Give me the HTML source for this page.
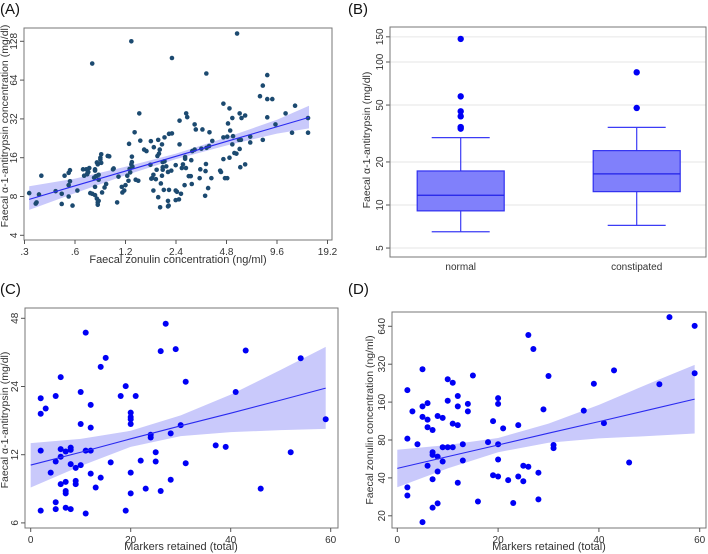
<!DOCTYPE html>
<html><head><meta charset="utf-8"><style>
html,body{margin:0;padding:0;background:#fff;}
svg{display:block;font-family:"Liberation Sans",Arial,sans-serif;}
</style></head><body>
<svg id="chart" width="708" height="554" viewBox="0 0 708 554" xmlns="http://www.w3.org/2000/svg"></svg>
<script>
// ---------- Panel A data ----------
const aX=[0.76,1.30,2.27,3.64,5.55,7.6,7.9,8.4,8.4,9.0,8.4,9.4,10.8,12.3,11.8,14.7,14.7,7.9,6.65,6.65,6.2,5.75,5.9,5.2,5.0,4.6,4.9,5.05,5.25,4.85,4.6,5.2,5.7,5.85,5.5,5.75,5.35,5.0,5.8,6.2,4.6,4.4,4.45,4.7,4.85,
3.45,3.1,3.15,2.76,2.8,2.52,2.18,2.05,1.98,1.88,1.77,1.7,1.6,1.55,1.47,1.45,1.36,1.26,1.31,1.31,1.3,1.32,1.27,1.28,1.38,1.43,1.25,1.2,1.23,1.18,1.15,1.07,1.14,1.09,1.01,1.02,0.94,0.96,0.92,0.90,0.87,0.78,0.79,0.79,0.73,0.74,0.76,0.70,0.72,0.71,0.83,0.80,0.81,0.82,0.83,0.86,0.85,0.85,0.86,0.79,0.79,0.81,0.82,0.82,0.83,0.71,0.67,0.68,0.62,0.58,0.55,0.55,0.55,0.56,0.56,0.52,0.50,0.50,0.46,0.378,0.366,0.354,0.35,0.32,
1.86,1.92,1.90,1.73,1.69,2.0,2.05,2.0,2.15,2.0,2.1,1.98,2.25,2.39,2.27,2.52,2.6,2.64,2.75,2.72,2.72,2.96,2.94,2.98,3.1,3.0,3.4,3.35,3.6,3.65,3.8,3.95,3.78,3.9,3.62,3.32,3.58,3.73,2.57,2.39,2.43,2.5,2.39,2.7,2.86,2.18,2.03,1.95,1.88,2.15,2.17,2.15,1.93,1.76,1.82,1.76,1.84,1.71];
const aY=[86,128,95,72,147,48,58,70,45.6,45.6,32.9,29,35.3,40.5,25,32.5,25,22,23.3,21,34,35.3,32.5,32.5,38.6,42,29.5,26,23.5,23.3,23,20.3,22,22,17.2,18.7,17.4,16,13.5,14.2,15.6,12.7,12.4,11.1,11.1,
26.5,29,26.5,35.3,33,31,24.5,23,20.3,22,19.3,21.5,18,18.5,21.7,35.3,25.2,20.5,16.3,14.8,14.2,13.6,13.1,12.3,10.8,10.6,10.6,9.8,11.6,8.9,8.6,7.2,9.5,11.4,13.0,13.2,16.5,16.4,10.0,9.4,8.6,11.2,13.0,12.7,13.3,8.5,8.4,13.0,12.4,11.9,10.8,11.5,14.7,14.2,11.8,17.0,16,15.5,14.6,9.5,8.2,7.7,7.2,6.9,7.4,12.0,13.0,11.6,8.9,6.8,9.8,12.2,8.0,10.5,12.8,11.6,8.4,7.0,8.8,11.6,8.3,7.2,7.05,8.5,
16.5,18.5,17.2,11.1,14.1,14.8,15.0,13.5,12.4,12.9,13.7,11.6,12.7,14.0,24.7,20.3,13.3,14.2,13.3,16.2,15.7,15.3,11.5,10.0,18.5,18.0,18.8,13.0,12.6,19.1,25.2,21.6,19.7,11.1,14.3,11.1,8.1,9.3,8.4,8.9,8.7,7.6,7.5,9.8,11.5,9.0,9.0,10.1,7.9,7.4,6.8,6.7,6.6,8.9,10.9,11.8,12.9,11.0];
const aTicksX=[0.3,0.6,1.2,2.4,4.8,9.6,19.2];
const aTickLabX=[".3",".6","1.2","2.4","4.8","9.6","19.2"];
const aTicksY=[4,8,16,32,64,128];
const aBandX=[0.32,0.6,1.2,2.4,4.8,9.6,14.9];
const aFit=[7.6,9.68,12.6,16.4,21.4,27.8,32.9];
const aUpper=[9.6,11.0,13.6,17.2,23.0,31.5,40.5];
const aLower=[6.3,8.5,11.7,15.6,19.9,24.6,27.0];

// ---------- Panel B data ----------
const bGroups=["normal","constipated"];
const bQ1=[9.1,12.4], bMed=[11.7,16.5], bQ3=[17.3,24], bWlo=[6.5,7.2], bWhi=[29.6,34.9];
const bOutG=[0,0,0,0,0,0,1,1];
const bOutV=[145,57.5,45.2,41.7,35.1,34.2,84.7,47.7];
const bTicks=[5,10,20,50,100,150];

// ---------- Panel C data ----------
const cX=[11,27,26,29,43,15,14,54,59,6,19,31,2,5,10,18,21,41,3,2,12,20,20,20,20,10,12,30,24,24,28,37,39,52,25,25,31,22,16,2,6,6,5,7,8,8,11,12,8,10,9,4,12,14,7,6,9,9,7,7,13,20,20,23,26,28,46,5,5,2,7,8,19,11];
const cY=[41.5,45.4,34.4,35.1,34.6,32.1,29.3,32,17.2,26.4,24.1,25.2,21.3,21.8,22.7,21.8,21.8,22.7,19.2,18.2,19.9,18.4,17.6,17.2,16.4,16.4,15.8,16.2,14.7,14.3,14.9,13.2,13.0,12.3,12.3,11.2,11.0,11.3,11.1,12.5,12.7,11.75,11.2,12.4,12.9,12.6,12.5,12.5,10.9,10.8,10.5,10.0,9.9,9.5,9.1,8.9,9.2,8.9,8.3,8.1,8.6,10.0,8.1,8.5,8.3,9.3,8.5,7.4,6.9,6.8,7.0,6.9,6.8,6.6];
const cTicksX=[0,20,40,60];
const cTicksY=[6,12,24,48];
const cBandX=[0,10,20,30,40,50,59];
const cFit=[10.8,12.3,14.1,16.1,18.3,20.9,23.6];
const cUpper=[13.5,14.1,15.3,17.9,22.1,28.4,35.9];
const cLower=[8.6,10.7,13.0,14.5,15.1,15.4,15.6];

// ---------- Panel D data ----------
const dX=[54,59,26,27,59,5,43,30,15,10,11,39,52,2,12,20,10,20,6,14,5,12,3,14,29,37,8,9,5,6,19,11,12,24,41,6,7,21,2,4,13,18,20,31,31,9,10,11,7,7,8,13,9,20,6,25,26,46,8,28,19,20,24,22,25,12,7,2,2,16,28,23,8,7,5];
const dY=[757,645,546,423,271,292,286,258,260,243,228,224,222,199,179,172,164,155,157,155,148,148,135,135,140,137,124,120,122,116,113,108,105,105,109,101,96,99,82,74,74,77,74,73,69,70,70,70,64,61,59,55,54,56,50,50,49,53,45,44,42,41,41,38.4,37.6,36.6,39,33.6,29,26,27,25.3,25.1,23.2,17.8];
const dTicksX=[0,20,40,60];
const dTicksY=[20,40,80,160,320,640];
const dBandX=[0,10,20,30,40,50,59];
const dFit=[47.6,59,73,90.6,112,139,169];
const dUpper=[67,73,83,108,152,225,316];
const dLower=[33.7,47.6,64,76,82.5,86,90];

const NS="http://www.w3.org/2000/svg";
const svg=document.getElementById('chart');
function el(tag,attrs,parent,txt){const e=document.createElementNS(NS,tag);for(const k in attrs)e.setAttribute(k,attrs[k]);if(txt!==undefined)e.textContent=txt;(parent||svg).appendChild(e);return e;}
const L2=Math.log2, L10=Math.log10;

const ax=x=>75+50.5*L2(x/0.6), ay=y=>157.7-38.8*L2(y/16);
const by=y=>205-143*L10(y/10);
const cx=x=>30.7+5*x, cy=y=>454.7-68.2*L2(y/12);
const dx=x=>397.3+5.04*x, dy=y=>440-37.9*L2(y/80);

function panelLabel(t,x,y,name){const e=el('text',{x:x,y:y,'font-size':15,fill:'#111'},svg,t);

}

function scatterPanel(o){
  const g=el('g',{});
  
  
  let pts=o.bandX.map((x,i)=>o.sx(x)+','+o.sy(o.upper[i]));
  pts=pts.concat(o.bandX.map((x,i)=>o.sx(x)+','+o.sy(o.lower[i])).reverse());
  const band=el('polygon',{points:pts.join(' '),fill:'#c9c9fb',stroke:'none'},g);
  
  
  const pg=el('g',{},g);
  
  
  o.xs.forEach((x,i)=>{const c=el('circle',{cx:o.sx(x),cy:o.sy(o.ys[i]),r:o.r,fill:o.color},pg);
    
    });
  const lp=o.bandX.map((x,i)=>o.sx(x)+','+o.sy(o.fit[i])).join(' ');
  const ln=el('polyline',{points:lp,fill:'none',stroke:'#2a2af0','stroke-width':1.1},g);
  
  
  const f=o.frame;
  const fr=el('rect',{x:f[0],y:f[1],width:f[2]-f[0],height:f[3]-f[1],fill:'none',stroke:'#777','stroke-width':1},g);
  
  
  o.tx.forEach((t,i)=>{const X=o.sx(t);
    el('line',{x1:X,x2:X,y1:f[3],y2:f[3]+4,stroke:'#555'},g);
    const lt=el('text',{x:X,y:f[3]+15,'font-size':10,'text-anchor':'middle',fill:'#333'},g,o.txl?o.txl[i]:String(t));
    
    });
  o.ty.forEach(t=>{const Y=o.sy(t);
    el('line',{x1:f[0]-4,x2:f[0],y1:Y,y2:Y,stroke:'#555'},g);
    const lt=el('text',{x:0,y:0,'font-size':10,'text-anchor':'middle',fill:'#333',transform:'translate('+(f[0]-7)+','+Y+') rotate(-90)'},g,String(t));
    
    });
  const xt=el('text',{x:o.xtPos[0],y:o.xtPos[1],'font-size':11,'text-anchor':'middle',fill:'#333'},g,o.xTitle);
  
  
  const yt=el('text',{x:0,y:0,'font-size':10.5,'text-anchor':'middle',fill:'#333',transform:'translate('+o.ytPos[0]+','+o.ytPos[1]+') rotate(-90)'},g,o.yTitle);
  
  
}

panelLabel('(A)',0,14,'panel-label-a');
scatterPanel({name:'panel-a',xs:aX,ys:aY,sx:ax,sy:ay,r:2.3,color:'#1c4a70',bandX:aBandX,fit:aFit,upper:aUpper,lower:aLower,
  frame:[24,28,332,240],tx:aTicksX,txl:aTickLabX,ty:aTicksY,xTitle:'Faecal zonulin concentration (ng/ml)',xtPos:[178,263],
  yTitle:'Faecal α-1-antitrypsin concentration (mg/dl)',ytPos:[8,126]});

panelLabel('(C)',0,294,'panel-label-c');
scatterPanel({name:'panel-c',xs:cX,ys:cY,sx:cx,sy:cy,r:3,color:'#0000f5',bandX:cBandX,fit:cFit,upper:cUpper,lower:cLower,
  frame:[25,308,338,528],tx:cTicksX,ty:cTicksY,xTitle:'Markers retained (total)',xtPos:[181,550],
  yTitle:'Faecal α-1-antitrypsin (mg/dl)',ytPos:[8,420]});

panelLabel('(D)',348,294,'panel-label-d');
scatterPanel({name:'panel-d',xs:dX,ys:dY,sx:dx,sy:dy,r:3,color:'#0000f5',bandX:dBandX,fit:dFit,upper:dUpper,lower:dLower,
  frame:[392,312,706,528],tx:dTicksX,ty:dTicksY,xTitle:'Markers retained (total)',xtPos:[549,550],
  yTitle:'Faecal zonulin concentration (ng/ml)',ytPos:[373,420]});

panelLabel('(B)',348,14,'panel-label-b');
(function(){
  const g=el('g',{});
  
  
  const f=[390,27,706,257];
  const cxs=[460.7,636.7];
  bTicks.forEach(t=>{const Y=by(t);
    const gl=el('line',{x1:f[0],x2:f[2],y1:Y,y2:Y,stroke:'#e6e6e6','stroke-width':1},g);
    
    
    el('line',{x1:f[0]-4,x2:f[0],y1:Y,y2:Y,stroke:'#555'},g);
    const lt=el('text',{x:0,y:0,'font-size':10,'text-anchor':'middle',fill:'#333',transform:'translate('+(f[0]-7)+','+Y+') rotate(-90)'},g,String(t));
    
    });
  bGroups.forEach((name,i)=>{const c=cxs[i];
    const bg=el('g',{},g);
    
    
    el('line',{x1:c,x2:c,y1:by(bQ3[i]),y2:by(bWhi[i]),stroke:'#3c3cf5','stroke-width':1.2},bg);
    el('line',{x1:c,x2:c,y1:by(bQ1[i]),y2:by(bWlo[i]),stroke:'#3c3cf5','stroke-width':1.2},bg);
    el('line',{x1:c-29,x2:c+29,y1:by(bWhi[i]),y2:by(bWhi[i]),stroke:'#3c3cf5','stroke-width':1.2},bg);
    el('line',{x1:c-29,x2:c+29,y1:by(bWlo[i]),y2:by(bWlo[i]),stroke:'#3c3cf5','stroke-width':1.2},bg);
    el('rect',{x:c-43.5,y:by(bQ3[i]),width:87,height:by(bQ1[i])-by(bQ3[i]),fill:'#8080fb',stroke:'#3030f0','stroke-width':1.2},bg);
    el('line',{x1:c-43.5,x2:c+43.5,y1:by(bMed[i]),y2:by(bMed[i]),stroke:'#2020e8','stroke-width':1.3},bg);
    const cl=el('text',{x:c,y:270,'font-size':10,'text-anchor':'middle',fill:'#333'},g,name);
    
    });
  bOutV.forEach((v,i)=>{const o=el('circle',{cx:cxs[bOutG[i]],cy:by(v),r:3.2,fill:'#0000f5'},g);
    
    });
  const fr=el('rect',{x:f[0],y:f[1],width:f[2]-f[0],height:f[3]-f[1],fill:'none',stroke:'#777'},g);
  
  
  const yt=el('text',{x:0,y:0,'font-size':10.5,'text-anchor':'middle',fill:'#333',transform:'translate(370,140) rotate(-90)'},g,'Faecal α-1-antitrypsin (mg/dl)');
  
  
})();
</script>
</body></html>
